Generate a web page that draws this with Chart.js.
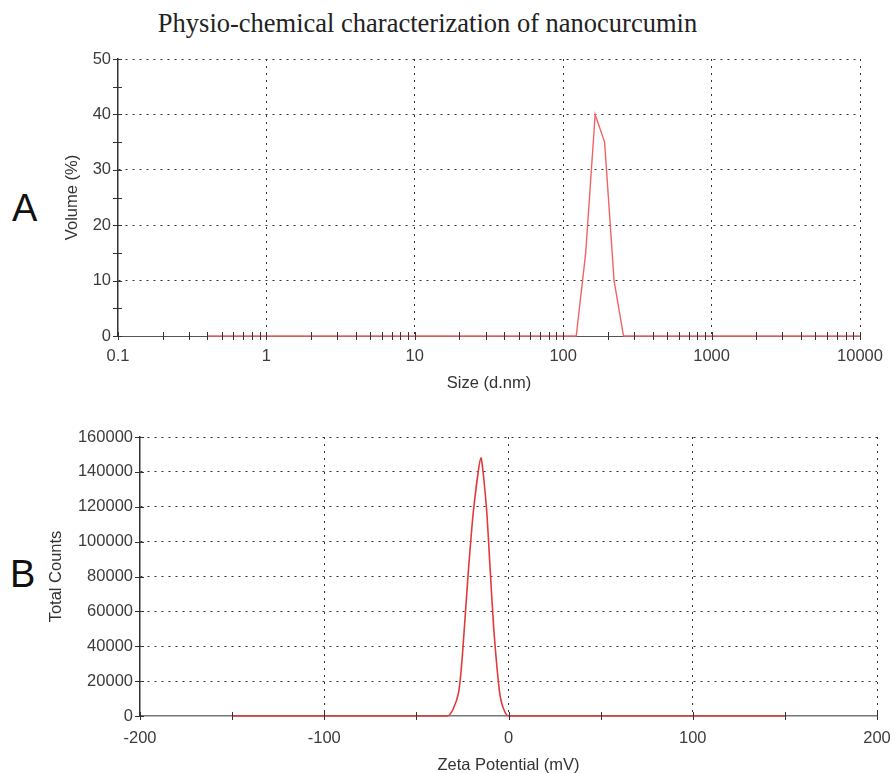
<!DOCTYPE html>
<html lang="en">
<head>
<meta charset="utf-8">
<title>Nanocurcumin</title>
<script src="https://cdn.jsdelivr.net/npm/chart.js@4.4.1/dist/chart.umd.min.js"></script>
<style>
  body {margin: 0; background: #fff; width: 895px; height: 773px; position: relative; overflow: hidden;}
  .lbl {position: absolute; font-family: "Liberation Sans", Arial, sans-serif; font-size: 38px; color: #111; line-height: 1;}
  #title {position: absolute; left: 0; width: 855px; top: 8px; text-align: center;
          font-family: "Liberation Serif", "Times New Roman", serif; font-size: 26.5px; color: #222;}
  canvas {position: absolute; left: 0;}
</style>
</head>
<body>
<div id="title">Physio-chemical characterization of nanocurcumin</div>
<div class="lbl" style="left:12px; top:189px;">A</div>
<div class="lbl" style="left:10px; top:555px;">B</div>
<div style="position:absolute; left:0; top:40px; width:895px; height:365px;"><canvas id="chartA"></canvas></div>
<div style="position:absolute; left:0; top:420px; width:895px; height:360px;"><canvas id="chartB"></canvas></div>
<script>
// A : size distribution by volume
var sizeNm = [0.4, 122.4, 141.8, 164.2, 190.1, 220.2, 255, 10000];
var volumePct = [0, 0, 15, 40, 35, 10, 0, 0];
var sizeTickLabels = [0.1, 1, 10, 100, 1000, 10000];
var volumeTicks = [0, 10, 20, 30, 40, 50];

// B : zeta potential distribution
var zetaMv = [-150, -33, -30, -27, -25, -22, -19, -15, -12, -10, -8, -5, -3, 0, 150];
var totalCounts = [0, 0, 4000, 14000, 35000, 80000, 118000, 148000, 120000, 85000, 50000, 15000, 5000, 0, 0];
var zetaTickLabels = [-200, -100, 0, 100, 200];
var countTicks = [0, 20000, 40000, 60000, 80000, 100000, 120000, 140000, 160000];

// minor ticks of the log axis: 1..9 per decade
var sizeMinor = [];
for (var d = 0; d < sizeTickLabels.length - 1; d++) {
  for (var m = 1; m < 10; m++) sizeMinor.push(m == 1 ? sizeTickLabels[d] : m * sizeTickLabels[d]);
}
sizeMinor.push(sizeTickLabels[sizeTickLabels.length - 1]);

var tickFont = {family: '"Liberation Sans", Arial, sans-serif', size: 16.5};
var dotted = [2, 5];

const tickMarks = {
  id: 'tickMarks',
  afterDatasetsDraw(chart) {
    const ctx = chart.ctx, a = chart.chartArea;
    const x = chart.scales.x, y = chart.scales.y;
    ctx.save();
    ctx.strokeStyle = '#333';
    ctx.lineWidth = 1;
    x.ticks.forEach(function (t, i) {
      const px = Math.round(x.getPixelForTick(i)) + 0.5;
      ctx.beginPath(); ctx.moveTo(px, a.bottom - 4); ctx.lineTo(px, a.bottom + 4); ctx.stroke();
    });
    y.ticks.forEach(function (t, i) {
      const py = Math.round(y.getPixelForTick(i)) + 0.5;
      ctx.beginPath(); ctx.moveTo(a.left - 5, py); ctx.lineTo(a.left + 4, py); ctx.stroke();
    });
    ctx.restore();
  }
};

function pts(xs, ys) { return xs.map(function (v, i) { return {x: v, y: ys[i]}; }); }

new Chart(document.getElementById('chartA'), {
  type: 'line',
  data: {datasets: [{
    data: pts(sizeNm, volumePct),
    borderColor: '#f26464', borderWidth: 1.4, pointRadius: 0, tension: 0, clip: false
  }]},
  options: {
    responsive: true, maintainAspectRatio: false, animation: false,
    layout: {padding: {top: 19, right: 35, left: 0, bottom: 0}},
    plugins: {legend: {display: false}, tooltip: {enabled: false}},
    scales: {
      x: {
        type: 'logarithmic', min: 0.1, max: 10000,
        afterBuildTicks: function (s) { s.ticks = sizeMinor.map(function (v) { return {value: v}; }); },
        afterFit: function (s) { s.height = 69; s.paddingRight = 10; s.paddingLeft = 10; },
        ticks: {autoSkip: false, maxRotation: 0, padding: 11, color: '#3c3c3c', font: tickFont,
          callback: function (v) { return sizeTickLabels.indexOf(v) >= 0 ? String(v) : ''; }},
        grid: {drawTicks: false, lineWidth: 1,
          color: function (c) { return (c.tick && sizeTickLabels.indexOf(c.tick.value) > 0) ? '#333' : 'rgba(0,0,0,0)'; }},
        border: {color: '#555', width: 1, dash: dotted},
        title: {display: true, text: 'Size (d.nm)', color: '#333', font: tickFont, padding: {top: 0, bottom: 12}}
      },
      y: {
        min: 0, max: 50,
        afterBuildTicks: function (s) { s.ticks = []; for (var v = 0; v <= 50; v += 5) s.ticks.push({value: v}); },
        afterFit: function (s) { s.width = 118; },
        ticks: {padding: 7, color: '#3c3c3c', font: tickFont,
          callback: function (v) { return volumeTicks.indexOf(v) >= 0 ? String(v) : ''; }},
        grid: {drawTicks: false, lineWidth: 1,
          color: function (c) { return (c.tick && c.tick.value > 0 && volumeTicks.indexOf(c.tick.value) >= 0) ? '#333' : 'rgba(0,0,0,0)'; }},
        border: {color: '#333', width: 1.5, dash: dotted},
        title: {display: true, text: 'Volume (%)', color: '#333', font: tickFont, padding: {top: 63, bottom: 0}}
      }
    }
  },
  plugins: [tickMarks]
});

new Chart(document.getElementById('chartB'), {
  type: 'line',
  data: {datasets: [{
    data: pts(zetaMv, totalCounts),
    borderColor: '#e23a3a', borderWidth: 1.6, pointRadius: 0, tension: 0.2, clip: false
  }]},
  options: {
    responsive: true, maintainAspectRatio: false, animation: false,
    layout: {padding: {top: 17, right: 18, left: 0, bottom: 0}},
    plugins: {legend: {display: false}, tooltip: {enabled: false}},
    scales: {
      x: {
        type: 'linear', min: -200, max: 200,
        afterBuildTicks: function (s) { s.ticks = []; for (var v = -200; v <= 200; v += 50) s.ticks.push({value: v}); },
        afterFit: function (s) { s.height = 64; s.paddingRight = 12; s.paddingLeft = 12; },
        ticks: {autoSkip: false, maxRotation: 0, padding: 13, color: '#3c3c3c', font: tickFont,
          callback: function (v) { return zetaTickLabels.indexOf(v) >= 0 ? String(v) : ''; }},
        grid: {drawTicks: false, lineWidth: 1,
          color: function (c) { return (c.tick && zetaTickLabels.indexOf(c.tick.value) > 0) ? '#333' : 'rgba(0,0,0,0)'; }},
        border: {color: '#777', width: 1.5, dash: dotted},
        title: {display: true, text: 'Zeta Potential (mV)', color: '#333', font: tickFont, padding: {top: 0, bottom: 5}}
      },
      y: {
        min: 0, max: 160000,
        afterBuildTicks: function (s) { s.ticks = []; for (var v = 0; v <= 160000; v += 10000) s.ticks.push({value: v}); },
        afterFit: function (s) { s.width = 140; },
        ticks: {padding: 7, color: '#3c3c3c', font: tickFont,
          callback: function (v) { return countTicks.indexOf(v) >= 0 ? String(v) : ''; }},
        grid: {drawTicks: false, lineWidth: 1,
          color: function (c) { return (c.tick && c.tick.value > 0 && countTicks.indexOf(c.tick.value) >= 0) ? '#333' : 'rgba(0,0,0,0)'; }},
        border: {color: '#333', width: 1.5, dash: dotted},
        title: {display: true, text: 'Total Counts', color: '#333', font: tickFont, padding: {top: 47, bottom: 0}}
      }
    }
  },
  plugins: [tickMarks]
});
</script>
</body>
</html>
